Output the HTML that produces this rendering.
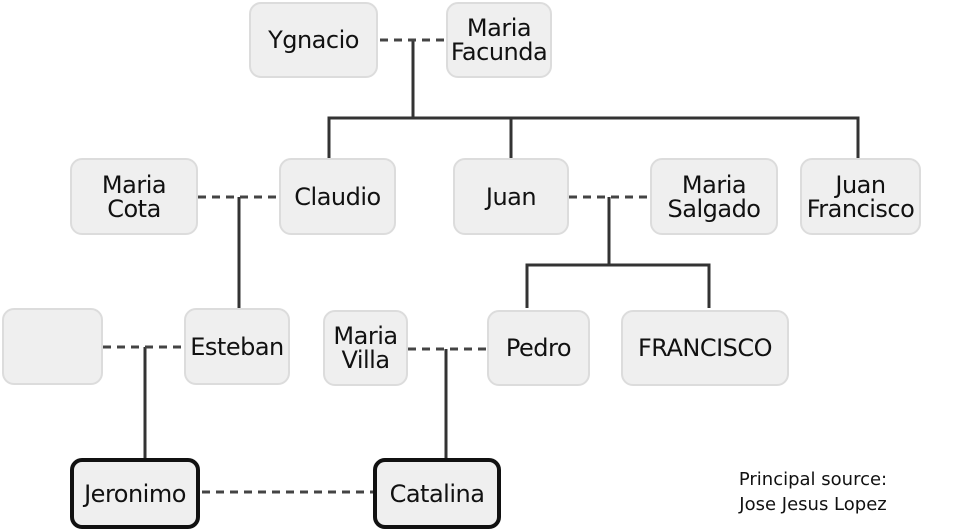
<!DOCTYPE html>
<html><head><meta charset="utf-8"><style>
body{margin:0;width:960px;height:529px;background:#fff;position:relative;overflow:hidden;font-family:"DejaVu Sans","Liberation Sans",sans-serif;}
.n{position:absolute;box-sizing:border-box;background:#efefef;border:2px solid #dcdcdc;border-radius:12px;display:flex;align-items:center;justify-content:center;text-align:center;font-size:24px;line-height:24px;color:#111;white-space:nowrap;letter-spacing:-0.5px}
.b{border:4px solid #111;}
svg{position:absolute;left:0;top:0}
.src{position:absolute;left:700px;width:226px;text-align:center;font-size:18px;line-height:25px;top:467px;color:#111}
</style></head><body>
<svg width="960" height="529">
<g stroke="#333" stroke-width="3" fill="none">
<path d="M413 40V118M329 158V118H858V158M511 118V158"/>
<path d="M239 197V308M609 197V265M527 308V265H709V308"/>
<path d="M145 347V458M446 349V458"/>
</g>
<g stroke="#444" stroke-width="3" stroke-dasharray="8,6" fill="none">
<path d="M380 40H447M198 197H279M569 197H650M103 347H184M408 349H487M202 492H373"/>
</g>
</svg>
<div class="n" style="left:249px;top:2px;width:129px;height:76px">Ygnacio</div>
<div class="n" style="left:446px;top:2px;width:106px;height:76px">Maria<br>Facunda</div>
<div class="n" style="left:70px;top:158px;width:128px;height:77px">Maria<br>Cota</div>
<div class="n" style="left:279px;top:158px;width:117px;height:77px">Claudio</div>
<div class="n" style="left:453px;top:158px;width:116px;height:77px">Juan</div>
<div class="n" style="left:650px;top:158px;width:128px;height:77px">Maria<br>Salgado</div>
<div class="n" style="left:800px;top:158px;width:121px;height:77px">Juan<br>Francisco</div>
<div class="n" style="left:2px;top:308px;width:101px;height:77px"></div>
<div class="n" style="left:184px;top:308px;width:106px;height:77px">Esteban</div>
<div class="n" style="left:323px;top:310px;width:85px;height:76px">Maria<br>Villa</div>
<div class="n" style="left:487px;top:310px;width:103px;height:76px">Pedro</div>
<div class="n" style="left:621px;top:310px;width:168px;height:76px">FRANCISCO</div>
<div class="n b" style="left:70px;top:458px;width:130px;height:71px">Jeronimo</div>
<div class="n b" style="left:373px;top:458px;width:128px;height:71px">Catalina</div>
<div class="src">Principal source:<br>Jose Jesus Lopez</div>
</body></html>
